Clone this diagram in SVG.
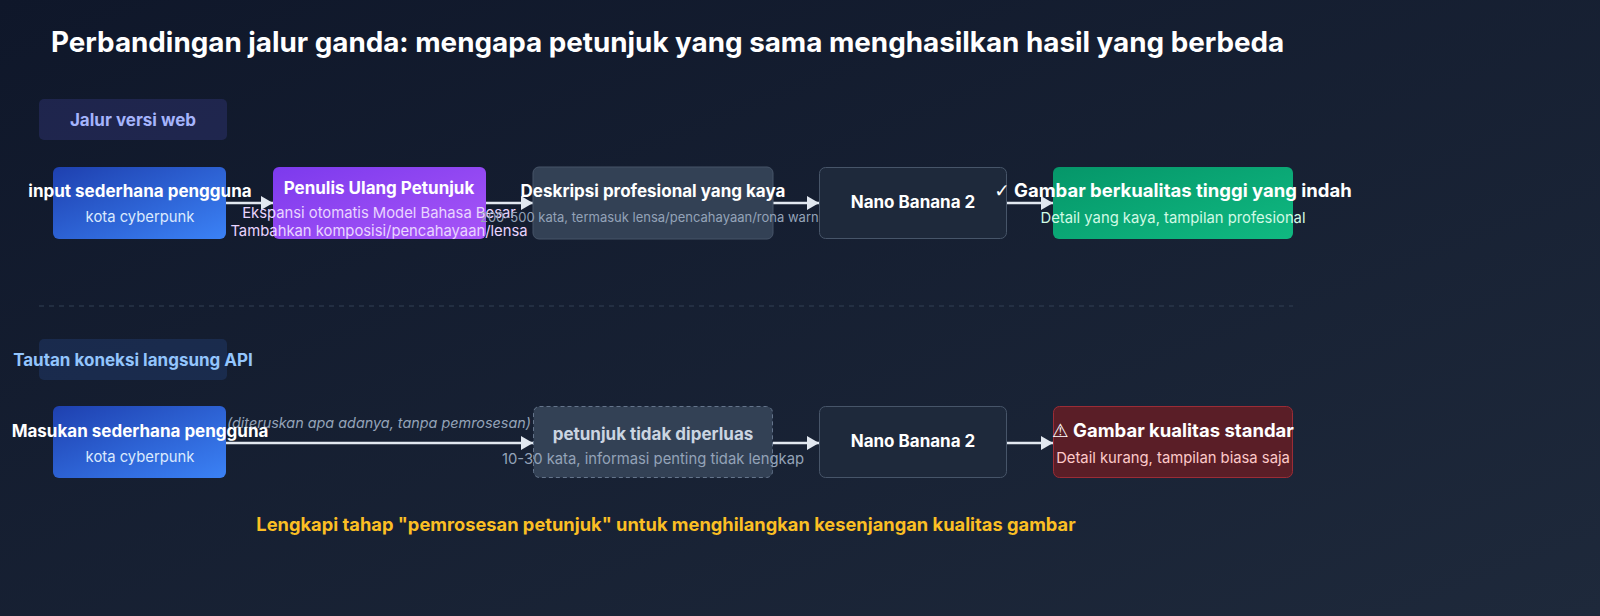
<svg xmlns="http://www.w3.org/2000/svg" width="1600" height="616" viewBox="0 0 1600 616">
<defs>
<linearGradient id="bg" x1="0" y1="0" x2="1" y2="1"><stop offset="0" stop-color="#0f172a"/><stop offset="1" stop-color="#1e293b"/></linearGradient>
<linearGradient id="gBlue" x1="0" y1="0" x2="1" y2="1"><stop offset="0" stop-color="#1e40af"/><stop offset="1" stop-color="#3b82f6"/></linearGradient>
<linearGradient id="gPurple" x1="0" y1="0" x2="1" y2="1"><stop offset="0" stop-color="#7c3aed"/><stop offset="1" stop-color="#a855f7"/></linearGradient>
<linearGradient id="gGreen" x1="0" y1="0" x2="1" y2="1"><stop offset="0" stop-color="#059669"/><stop offset="1" stop-color="#10b981"/></linearGradient>
<marker id="arr" viewBox="0 0 12 14" refX="12" refY="7" markerWidth="12" markerHeight="14" markerUnits="userSpaceOnUse" orient="auto"><path d="M0,0 L12,7 L0,14 Z" fill="#e2e8f0"/></marker>
</defs>
<style>
text{font-family:Inter,"Noto Sans","Liberation Sans",sans-serif;text-anchor:middle}
.ttl{font-size:27.8px;font-weight:700;fill:#ffffff;text-anchor:start}
.lane{font-size:17px;font-weight:700}
.h{font-size:17px;font-weight:700;fill:#ffffff}
.ho{font-size:18.5px;font-weight:700;fill:#ffffff}
.s{font-size:14.8px}
.s2{font-size:13px}
.sym{font-family:"DejaVu Sans",sans-serif;font-weight:700}
.conn{stroke:#e2e8f0;stroke-width:2.5;fill:none;marker-end:url(#arr)}
.cl{font-size:14.4px;font-style:italic;fill:#94a3b8}
.foot{font-size:18.3px;font-weight:700;fill:#fbbf24}
</style>
<rect width="1600" height="616" fill="url(#bg)"/>
<text class="ttl" x="51" y="52">Perbandingan jalur ganda: mengapa petunjuk yang sama menghasilkan hasil yang berbeda</text>

<g id="lane-web">
<rect x="39" y="99" width="188" height="41" rx="5" fill="#6366f1" fill-opacity="0.17"/>
<text class="lane" x="133" y="126" fill="#a5b4fc">Jalur versi web</text>
</g>
<g id="lane-api">
<rect x="39" y="339" width="188" height="41" rx="5" fill="#3b82f6" fill-opacity="0.15"/>
<text class="lane" x="133" y="366" fill="#93c5fd">Tautan koneksi langsung API</text>
</g>

<line x1="39" y1="306" x2="1293" y2="306" stroke="#334155" stroke-width="1" stroke-dasharray="5 5"/>

<g id="connectors">
<line class="conn" x1="226" y1="203" x2="273" y2="203"/>
<line class="conn" x1="486" y1="203" x2="533" y2="203"/>
<line class="conn" x1="773" y1="203" x2="819" y2="203"/>
<line class="conn" x1="1006" y1="203" x2="1053" y2="203"/>
<line class="conn" x1="226" y1="443" x2="533" y2="443"/>
<text class="cl" x="379" y="428">(diteruskan apa adanya, tanpa pemrosesan)</text>
<line class="conn" x1="773" y1="443" x2="819" y2="443"/>
<line class="conn" x1="1006" y1="443" x2="1053" y2="443"/>
</g>

<g id="web-input">
<rect x="53" y="167" width="173" height="72" rx="6" fill="url(#gBlue)"/>
<text class="h" x="140" y="197">input sederhana pengguna</text>
<text class="s" x="140" y="222" fill="#dbeafe">kota cyberpunk</text>
</g>
<g id="web-rewriter">
<rect x="273" y="167" width="213" height="72" rx="6" fill="url(#gPurple)"/>
<text class="h" x="379" y="194">Penulis Ulang Petunjuk</text>
<text class="s" x="379" y="218" fill="#e9d5ff">Ekspansi otomatis Model Bahasa Besar</text>
<text class="s" x="379" y="236" fill="#e9d5ff">Tambahkan komposisi/pencahayaan/lensa</text>
</g>
<g id="web-desc">
<rect x="533" y="167" width="240" height="72" rx="6" fill="#334155" stroke="#475569" stroke-width="1"/>
<text class="h" x="653" y="197">Deskripsi profesional yang kaya</text>
<text class="s2" x="653" y="222" fill="#94a3b8">200-500 kata, termasuk lensa/pencahayaan/rona warna</text>
</g>
<g id="web-model">
<rect x="819.5" y="167.5" width="187" height="71" rx="6" fill="#1e293b" stroke="#475569" stroke-width="1"/>
<text class="h" x="913" y="208">Nano Banana 2</text>
</g>
<g id="web-output">
<rect x="1053" y="167" width="240" height="72" rx="6" fill="url(#gGreen)"/>
<text class="ho" x="1173" y="197"><tspan class="sym">✓</tspan> Gambar berkualitas tinggi yang indah</text>
<text class="s" x="1173" y="223" fill="#d1fae5">Detail yang kaya, tampilan profesional</text>
</g>

<g id="api-input">
<rect x="53" y="406" width="173" height="72" rx="6" fill="url(#gBlue)"/>
<text class="h" x="140" y="437">Masukan sederhana pengguna</text>
<text class="s" x="140" y="462" fill="#dbeafe">kota cyberpunk</text>
</g>
<g id="api-prompt">
<rect x="533.5" y="406.5" width="239" height="71" rx="6" fill="#334155" stroke="#64748b" stroke-width="1" stroke-dasharray="4 3"/>
<text class="h" x="653" y="440" style="fill:#cbd5e1">petunjuk tidak diperluas</text>
<text class="s" x="653" y="464" fill="#94a3b8">10-30 kata, informasi penting tidak lengkap</text>
</g>
<g id="api-model">
<rect x="819.5" y="406.5" width="187" height="71" rx="6" fill="#1e293b" stroke="#475569" stroke-width="1"/>
<text class="h" x="913" y="447">Nano Banana 2</text>
</g>
<g id="api-output">
<rect x="1053.5" y="406.5" width="239" height="71" rx="6" fill="#5a1e27" stroke="#9b2c36" stroke-width="1"/>
<text class="ho" x="1173" y="437"><tspan class="sym" font-weight="400">⚠</tspan> Gambar kualitas standar</text>
<text class="s" x="1173" y="463" fill="#fecaca">Detail kurang, tampilan biasa saja</text>
</g>

<text class="foot" x="666" y="531">Lengkapi tahap "pemrosesan petunjuk" untuk menghilangkan kesenjangan kualitas gambar</text>
</svg>
